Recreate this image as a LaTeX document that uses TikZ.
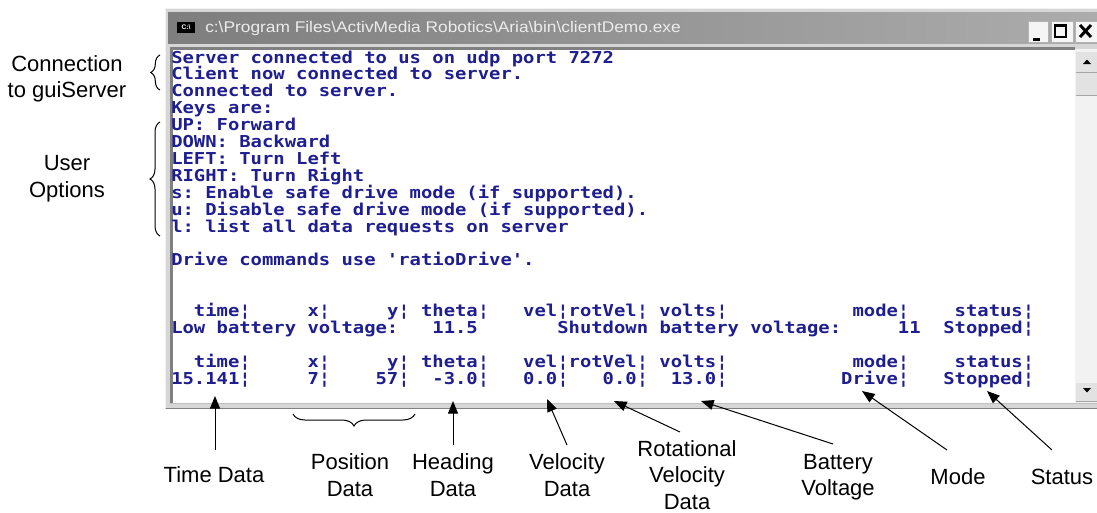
\documentclass[tikz,border=0pt]{standalone}
\usepackage{fontspec}
\setmainfont{Liberation Sans}
\newfontfamily\confont{DejaVu Sans Mono}[FakeStretch=1.15]
\newfontfamily\titlefont{Liberation Sans}[FakeStretch=1.12]
\usetikzlibrary{arrows.meta,decorations.pathreplacing}
\definecolor{contxt}{RGB}{30,30,145}
\definecolor{framegray}{RGB}{214,214,214}
\definecolor{tbl}{RGB}{126,126,126}
\definecolor{tbr}{RGB}{172,172,172}
\definecolor{titletxt}{RGB}{236,236,236}
\definecolor{sbtrack}{RGB}{242,242,242}
\definecolor{sbbtn}{RGB}{226,226,226}
\definecolor{edgegray}{RGB}{128,128,128}
\begin{document}
\begin{tikzpicture}[x=0.75pt,y=-0.75pt,
  con/.style={anchor=base west, inner sep=0pt, text=contxt, font=\confont\bfseries\fontsize{12.3}{14}\selectfont},
  lbl/.style={align=center, inner sep=0pt, font=\fontsize{16.5}{19.8}\selectfont},
  ptr/.style={line width=0.75pt, -{Triangle[length=9.5pt,width=7.5pt]}},
  brc/.style={decorate, decoration={brace, amplitude=#1}, line width=0.75pt},
  brc/.default=8pt,
  winbtn/.style={fill=white!92!gray, draw=gray!60}
]
\useasboundingbox (0,0) rectangle (1097,512);
\fill[white] (0,0) rectangle (1097,512);

% ---- window frame ----
\fill[framegray] (165,8) rectangle (1097,409);
\draw[edgegray, line width=0.75pt] (165.5,408.5) -- (1097,408.5);
\draw[white!90!gray, line width=0.75pt] (165.5,408) -- (165.5,8.5) -- (1097,8.5);
\shade[left color=tbl, right color=tbr] (168,12) rectangle (1097,43);
\fill[white] (170,48) rectangle (1075,403);
\draw[edgegray, line width=2pt] (171.3,403) -- (171.3,48.5) -- (1075,48.5);
\draw[gray!50, line width=0.75pt] (170,403.5) -- (1097,403.5);

% title icon and text
\node[fill=black, text=white, inner sep=0pt, minimum width=13.5pt, minimum height=8.5pt,
      font=\bfseries\fontsize{5}{5}\selectfont] (icon) at (186,27.5) {C:\textbackslash};
\node[anchor=west, inner sep=0pt, text=titletxt, font=\titlefont\fontsize{11.6}{13}\selectfont] (title) at (205,28)
  {c:\textbackslash Program Files\textbackslash ActivMedia Robotics\textbackslash Aria\textbackslash bin\textbackslash clientDemo.exe};

% title buttons
\filldraw[winbtn] (1028,21) rectangle (1048.5,42);
\fill[black] (1033,37.5) rectangle (1040,40.5);
\filldraw[winbtn] (1051,21) rectangle (1073,42);
\draw[black, line width=1.1pt] (1055,24.5) rectangle (1066,37);
\fill[black] (1054.5,23.5) rectangle (1066.5,26.5);
\filldraw[winbtn] (1075,21) rectangle (1097,42);
\draw[black, line width=2.2pt] (1080,25) -- (1091,37) (1091,25) -- (1080,37);

% scrollbar
\fill[sbtrack] (1075,49) rectangle (1097,403);
\fill[sbbtn] (1076,52) rectangle (1097,72);
\fill[black] (1083,64) -- (1091,64) -- (1087,59.5) -- cycle;
\fill[sbbtn] (1076,72) rectangle (1097,95);
\draw[gray!70, line width=0.75pt] (1076,72) -- (1097,72) (1076,95) -- (1097,95);
\fill[sbbtn] (1076,383) rectangle (1097,401);
\fill[black] (1083,388) -- (1091,388) -- (1087,392.5) -- cycle;
\draw[gray!70, line width=0.75pt] (1076,401) -- (1097,401);

% ---- console text ----
\node[con] (c0)  at (171,63.0)  {Server~connected~to~us~on~udp~port~7272};
\node[con] (c1)  at (171,79.9)  {Client~now~connected~to~server.};
\node[con] (c2)  at (171,96.8)  {Connected~to~server.};
\node[con] (c3)  at (171,113.7) {Keys~are:};
\node[con] (c4)  at (171,130.6) {UP:~Forward};
\node[con] (c5)  at (171,147.5) {DOWN:~Backward};
\node[con] (c6)  at (171,164.4) {LEFT:~Turn~Left};
\node[con] (c7)  at (171,181.3) {RIGHT:~Turn~Right};
\node[con] (c8)  at (171,198.2) {s:~Enable~safe~drive~mode~(if~supported).};
\node[con] (c9)  at (171,215.1) {u:~Disable~safe~drive~mode~(if~supported).};
\node[con] (c10) at (171,232.0) {l:~list~all~data~requests~on~server};
\node[con] (c12) at (171,265.8) {Drive~commands~use~'ratioDrive'.};
\node[con] (c15) at (171,316.5) {~~time¦~~~~~x¦~~~~~y¦~theta¦~~~vel¦rotVel¦~volts¦~~~~~~~~~~~mode¦~~~~status¦};
\node[con] (c16) at (171,333.4) {Low~battery~voltage:~~~11.5~~~~~~~Shutdown~battery~voltage:~~~~~11~~Stopped¦};
\node[con] (c18) at (171,367.2) {~~time¦~~~~~x¦~~~~~y¦~theta¦~~~vel¦rotVel¦~volts¦~~~~~~~~~~~mode¦~~~~status¦};
\node[con] (c19) at (171,384.1) {15.141¦~~~~~7¦~~~~57¦~~-3.0¦~~~0.0¦~~~0.0¦~~13.0¦~~~~~~~~~~Drive¦~~~Stopped¦};

% ---- left labels and braces ----
\node[lbl] (lConn) at (67,78.8) {Connection\\to guiServer};
\node[lbl] (lUser) at (67,178.8) {User\\Options};
\coordinate (bc1) at (160,90);
\coordinate (bc2) at (160,55);
\coordinate (bu1) at (160,236);
\coordinate (bu2) at (160,122);
\draw[brc=7pt] (bc1) -- (bc2);
\draw[brc=7.5pt] (bu1) -- (bu2);

% ---- bottom labels ----
\node[lbl] (lTime) at (214,475) {Time Data};
\node[lbl] (lPos)  at (350,475) {Position\\Data};
\node[lbl] (lHead) at (453,475) {Heading\\Data};
\node[lbl] (lVel)  at (567,475) {Velocity\\Data};
\node[lbl] (lRot)  at (687,475) {Rotational\\Velocity\\Data};
\node[lbl] (lBat)  at (838,477) {Battery\\Voltage};
\node[lbl] (lMode) at (958,477) {Mode};
\node[lbl] (lStat) at (1062,477) {Status};

% position brace
\coordinate (bp1) at (415,414);
\coordinate (bp2) at (293,414);
\draw[brc=9pt] (bp1) -- (bp2);

% arrows
\coordinate (aTime) at (215,450);  \coordinate (tTime) at (215,396);
\coordinate (aHead) at (453,445);  \coordinate (tHead) at (453,401);
\coordinate (aVel)  at (567,445);  \coordinate (tVel)  at (547,399);
\coordinate (aRot)  at (680,432);  \coordinate (tRot)  at (614,401);
\coordinate (aBat)  at (833,444);  \coordinate (tBat)  at (701,401);
\coordinate (aMode) at (947,450);  \coordinate (tMode) at (862,391);
\coordinate (aStat) at (1052,450); \coordinate (tStat) at (987,391);
\draw[ptr] (aTime) -- (tTime);
\draw[ptr] (aHead) -- (tHead);
\draw[ptr] (aVel) -- (tVel);
\draw[ptr] (aRot) -- (tRot);
\draw[ptr] (aBat) -- (tBat);
\draw[ptr] (aMode) -- (tMode);
\draw[ptr] (aStat) -- (tStat);
\end{tikzpicture}
\end{document}
